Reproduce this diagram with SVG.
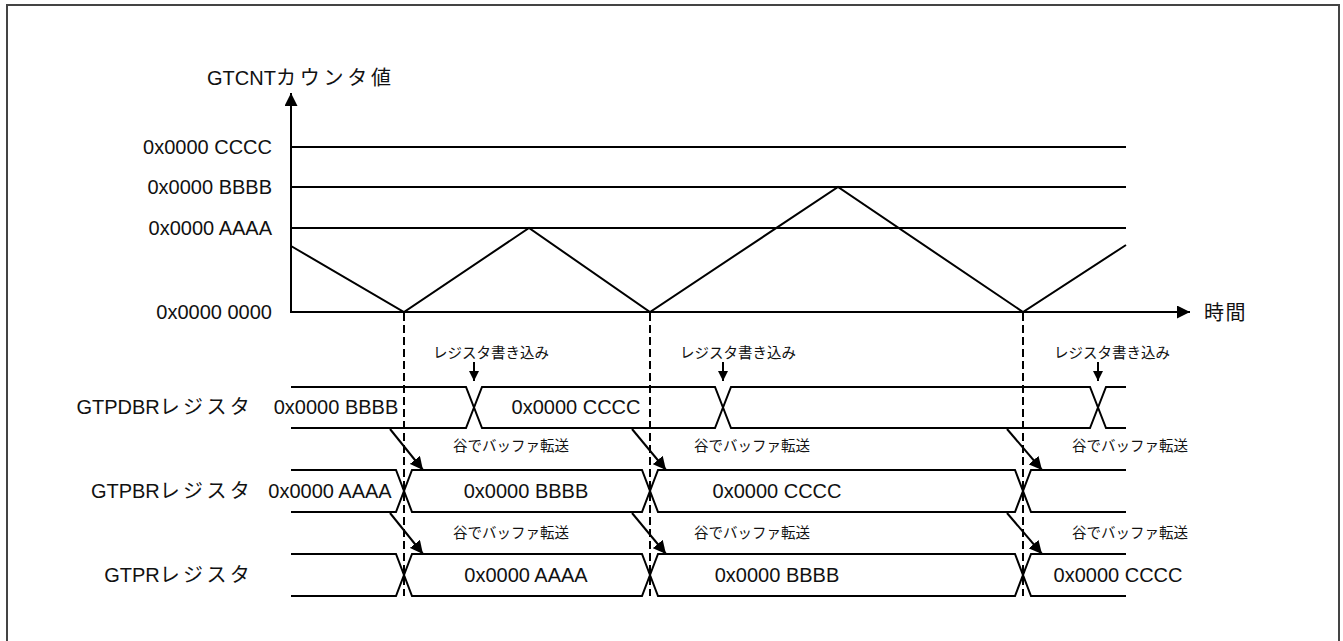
<svg xmlns="http://www.w3.org/2000/svg" width="1343" height="641" viewBox="0 0 1343 641">
<defs>
<style>
.t{font-family:"Liberation Sans","Noto Sans CJK JP",sans-serif;font-size:20px;fill:#111}
.s{font-family:"Liberation Sans","Noto Sans CJK JP",sans-serif;font-size:14.5px;fill:#111}
.j{letter-spacing:3.3px}
.r{text-anchor:end}
.m{text-anchor:middle}
.ln{stroke:#000;stroke-width:2;fill:none}
.dash{stroke:#000;stroke-width:2;stroke-dasharray:8 4;fill:none}
</style>
<marker id="big" viewBox="0 0 10 10" refX="10" refY="5" markerWidth="13" markerHeight="13" markerUnits="userSpaceOnUse" orient="auto"><path d="M0,0 L10,5 L0,10 z" fill="#000"/></marker>
<marker id="sm" viewBox="0 0 10 10" refX="10" refY="5" markerWidth="10" markerHeight="10" markerUnits="userSpaceOnUse" orient="auto"><path d="M0,0 L10,5 L0,10 z" fill="#000"/></marker>
</defs>
<rect x="7" y="5" width="1332" height="650" fill="#fff" stroke="#444" stroke-width="2"/>

<g id="axes">
<line class="ln" x1="291" y1="313" x2="291" y2="93" marker-end="url(#big)"/>
<line class="ln" x1="291" y1="312" x2="1190" y2="312" marker-end="url(#big)"/>
<text class="t" x="207" y="85">GTCNT<tspan style="letter-spacing:3.8px">カウンタ値</tspan></text>
<text class="t" x="1204" y="320" style="letter-spacing:1.5px">時間</text>
</g>

<g id="levels">
<line class="ln" x1="291" y1="147" x2="1126" y2="147"/>
<line class="ln" x1="291" y1="187" x2="1126" y2="187"/>
<line class="ln" x1="291" y1="228" x2="1126" y2="228"/>
<text class="t r" x="272" y="154">0x0000 CCCC</text>
<text class="t r" x="272" y="194">0x0000 BBBB</text>
<text class="t r" x="272" y="235">0x0000 AAAA</text>
<text class="t r" x="272" y="319">0x0000 0000</text>
</g>

<g id="wave">
<polyline class="ln" points="291,246 404,312 529,228 650,312 838,187 1023,312 1126,245"/>
</g>

<g id="gtpdbr">
<text class="t r" x="253" y="414">GTPDBR<tspan class="j">レジスタ</tspan></text>
<path class="ln" d="M291,387 H466 L482,428 H715 L731,387 H1090 L1106,428 H1126 M291,428 H466 L482,387 H715 L731,428 H1090 L1106,387 H1126"/>
<text class="t m" x="336" y="414">0x0000 BBBB</text>
<text class="t m" x="576" y="414">0x0000 CCCC</text>
</g>

<g id="gtpbr">
<text class="t r" x="253" y="498">GTPBR<tspan class="j">レジスタ</tspan></text>
<path class="ln" d="M291,470 H396 L412,512 H642 L658,470 H1015 L1031,512 H1126 M291,512 H396 L412,470 H642 L658,512 H1015 L1031,470 H1126"/>
<text class="t m" x="330" y="498">0x0000 AAAA</text>
<text class="t m" x="526" y="498">0x0000 BBBB</text>
<text class="t m" x="777" y="498">0x0000 CCCC</text>
</g>

<g id="gtpr">
<text class="t r" x="253" y="582">GTPR<tspan class="j">レジスタ</tspan></text>
<path class="ln" d="M291,554 H396 L412,596 H642 L658,554 H1015 L1031,596 H1126 M291,596 H396 L412,554 H642 L658,596 H1015 L1031,554 H1126"/>
<text class="t m" x="526" y="582">0x0000 AAAA</text>
<text class="t m" x="777" y="582">0x0000 BBBB</text>
<text class="t m" x="1118" y="582">0x0000 CCCC</text>
</g>

<g id="labels">
<text class="s m" x="491" y="358">レジスタ書き込み</text>
<text class="s m" x="738" y="358">レジスタ書き込み</text>
<text class="s m" x="1112" y="358">レジスタ書き込み</text>
<text class="s m" x="511" y="451">谷でバッファ転送</text>
<text class="s m" x="752" y="451">谷でバッファ転送</text>
<text class="s m" x="1130" y="451">谷でバッファ転送</text>
<text class="s m" x="511" y="538">谷でバッファ転送</text>
<text class="s m" x="752" y="538">谷でバッファ転送</text>
<text class="s m" x="1130" y="538">谷でバッファ転送</text>
</g>

<g id="connectors">
<line class="dash" x1="404" y1="313" x2="404" y2="596"/>
<line class="dash" x1="650" y1="313" x2="650" y2="596"/>
<line class="dash" x1="1023" y1="313" x2="1023" y2="596"/>
<line class="ln" x1="474" y1="362" x2="474" y2="381" marker-end="url(#sm)"/>
<line class="ln" x1="723" y1="362" x2="723" y2="381" marker-end="url(#sm)"/>
<line class="ln" x1="1098" y1="362" x2="1098" y2="381" marker-end="url(#sm)"/>
<line class="ln" stroke-width="1.5" x1="390" y1="429" x2="423" y2="470" marker-end="url(#big)"/>
<line class="ln" stroke-width="1.5" x1="632" y1="429" x2="666" y2="470" marker-end="url(#big)"/>
<line class="ln" stroke-width="1.5" x1="1007" y1="429" x2="1042" y2="470" marker-end="url(#big)"/>
<line class="ln" stroke-width="1.5" x1="390" y1="513" x2="423" y2="554" marker-end="url(#big)"/>
<line class="ln" stroke-width="1.5" x1="632" y1="513" x2="666" y2="554" marker-end="url(#big)"/>
<line class="ln" stroke-width="1.5" x1="1007" y1="513" x2="1042" y2="554" marker-end="url(#big)"/>
</g>
</svg>
